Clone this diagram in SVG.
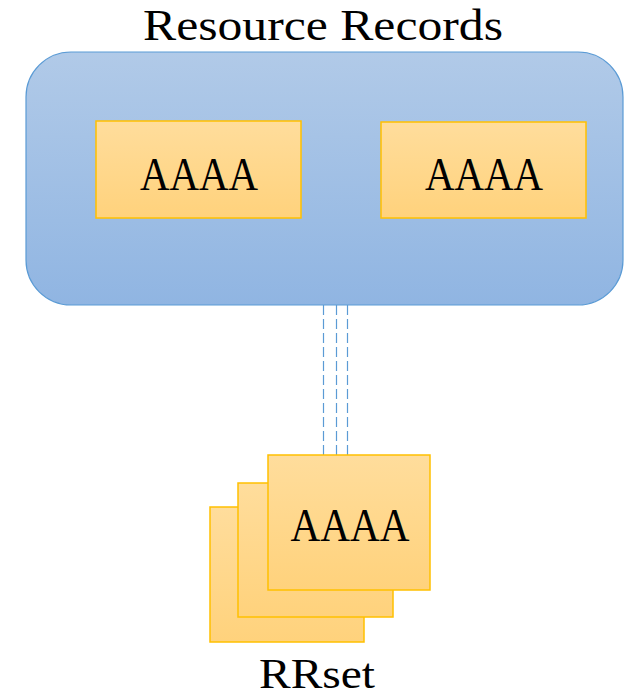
<svg xmlns="http://www.w3.org/2000/svg" width="636" height="697" viewBox="0 0 636 697">
  <defs>
    <linearGradient id="gBlue" x1="0" y1="0" x2="0" y2="1">
      <stop offset="0" stop-color="#B1CAE8"/>
      <stop offset="1" stop-color="#90B5E2"/>
    </linearGradient>
    <linearGradient id="gOrange" x1="0" y1="0" x2="0" y2="1">
      <stop offset="0" stop-color="#FFDD9C"/>
      <stop offset="1" stop-color="#FFD27C"/>
    </linearGradient>
  </defs>
  <style>
    .t { font-family: "Liberation Serif", "DejaVu Serif", serif; fill: #000; }
    .box { fill: url(#gOrange); stroke: #FFC000; stroke-width: 1.5; }
    .conn { stroke: #5B9BD5; stroke-width: 1.2; stroke-dasharray: 10 4; fill: none; }
  </style>
  <text class="t" x="323" y="40" font-size="45" text-anchor="middle" textLength="360" lengthAdjust="spacingAndGlyphs">Resource Records</text>
  <g id="resource-records">
    <rect x="26" y="52" width="597" height="253" rx="45" ry="45" fill="url(#gBlue)" stroke="#5B9BD5" stroke-width="1.2"/>
  </g>
  <g id="connectors">
    <line class="conn" x1="323.5" y1="305" x2="323.5" y2="455"/>
    <line class="conn" x1="336.5" y1="305" x2="336.5" y2="455"/>
    <line class="conn" x1="347.5" y1="305" x2="347.5" y2="455"/>
  </g>
  <g id="aaaa-1">
    <rect class="box" x="96" y="121" width="205" height="97"/>
    <text class="t" x="199" y="190" font-size="47" text-anchor="middle" textLength="118" lengthAdjust="spacingAndGlyphs">AAAA</text>
  </g>
  <g id="aaaa-2">
    <rect class="box" x="381" y="122" width="205" height="96"/>
    <text class="t" x="484" y="190" font-size="47" text-anchor="middle" textLength="118" lengthAdjust="spacingAndGlyphs">AAAA</text>
  </g>
  <g id="rrset">
    <rect class="box" x="210" y="507" width="154" height="135"/>
    <rect class="box" x="238" y="483" width="155" height="134"/>
    <rect class="box" x="268" y="455" width="162" height="135"/>
    <text class="t" x="350" y="541" font-size="47" text-anchor="middle" textLength="119" lengthAdjust="spacingAndGlyphs">AAAA</text>
  </g>
  <text class="t" x="317" y="688" font-size="42" text-anchor="middle" textLength="116" lengthAdjust="spacingAndGlyphs">RRset</text>
</svg>
